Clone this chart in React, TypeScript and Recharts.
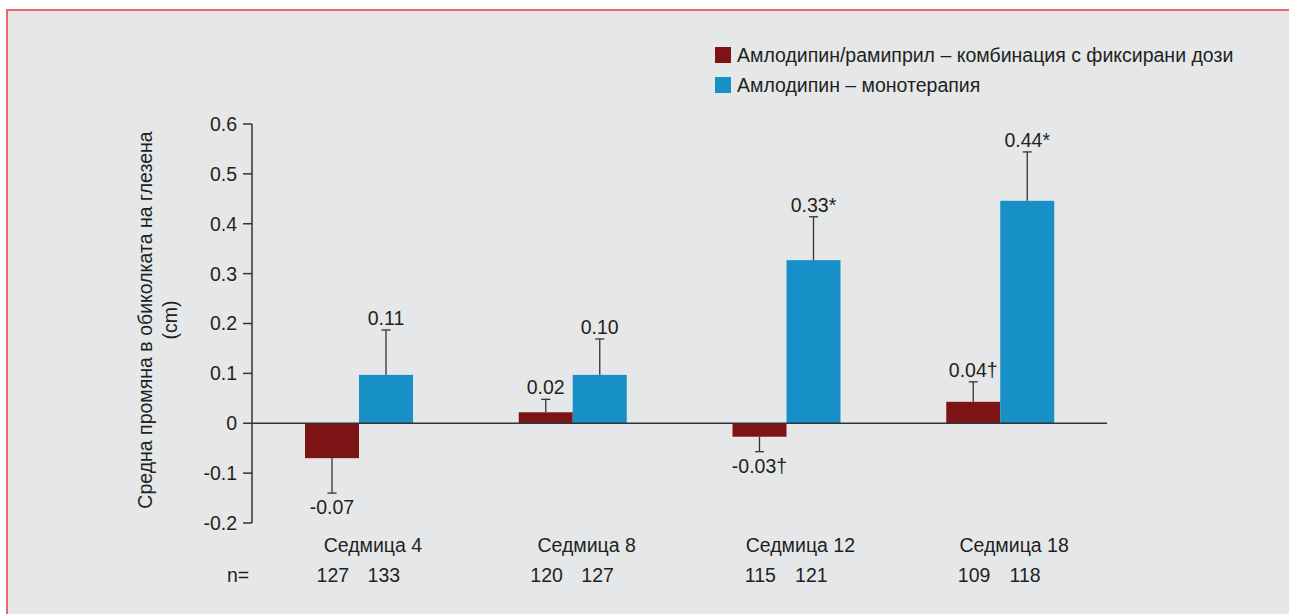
import React from "react";
import { BarChart, Bar, XAxis, YAxis, ReferenceLine } from "recharts";

const categories = ["Седмица 4", "Седмица 8", "Седмица 12", "Седмица 18"];
const comboValues = [-0.07, 0.022, -0.027, 0.043];
const comboErrors = [0.07, 0.026, 0.03, 0.04];
const comboLabels = ["-0.07", "0.02", "-0.03†", "0.04†"];
const monoValues = [0.097, 0.097, 0.327, 0.446];
const monoErrors = [0.09, 0.072, 0.087, 0.098];
const monoLabels = ["0.11", "0.10", "0.33*", "0.44*"];
const nCombo = ["127", "120", "115", "109"];
const nMono = ["133", "127", "121", "118"];
const yTicks = [-0.2, -0.1, 0, 0.1, 0.2, 0.3, 0.4, 0.5, 0.6];

const seriesNames = [
  "Амлодипин/рамиприл – комбинация с фиксирани дози",
  "Амлодипин – монотерапия",
];

const RED = "#7c1416";
const BLUE = "#1690c7";
const TEXT = "#231f20";
const AXIS = "#333333";
const FONT = "'Liberation Sans', Arial, Helvetica, sans-serif";
const FS = 19.5;

const data = categories.map((c, i) => ({
  cat: c,
  combo: comboValues[i],
  comboErr: comboErrors[i],
  comboLabel: comboLabels[i],
  mono: monoValues[i],
  monoErr: monoErrors[i],
  monoLabel: monoLabels[i],
}));

const makeShape = (key: string, errKey: string, labelKey: string, fill: string) => (props: any) => {
  const { x, y, width, height, payload } = props;
  const top = Math.min(y, y + height);
  const bot = Math.max(y, y + height);
  const h = bot - top;
  const val = payload[key];
  const err = payload[errKey];
  const label = payload[labelKey];
  const pos = val >= 0;
  const end = pos ? top : bot;
  const scale = h / Math.abs(val);
  const wEnd = end + (pos ? -1 : 1) * err * scale;
  const cx = x + width / 2;
  return (
    <g>
      <rect x={x} y={top} width={width} height={h} fill={fill} />
      <line x1={cx} x2={cx} y1={end} y2={wEnd} stroke={AXIS} strokeWidth={1.3} />
      <line x1={cx - 4.5} x2={cx + 4.5} y1={wEnd} y2={wEnd} stroke={AXIS} strokeWidth={1.3} />
      <text
        x={cx}
        y={pos ? wEnd - 5 : wEnd + 21}
        textAnchor="middle"
        fontSize={FS}
        fill={TEXT}
        fontFamily={FONT}
      >
        {label}
      </text>
    </g>
  );
};

const CatTick = (props: any) => {
  const { x, payload, index } = props;
  const i = payload && payload.index !== undefined ? payload.index : index;
  return (
    <g fontFamily={FONT} fontSize={FS} fill={TEXT}>
      <text x={x + 14} y={552} textAnchor="middle" fill={TEXT}>
        {payload.value}
      </text>
      <text x={x - 26} y={582} textAnchor="middle" fill={TEXT}>
        {nCombo[i]}
      </text>
      <text x={x + 25} y={582} textAnchor="middle" fill={TEXT}>
        {nMono[i]}
      </text>
      {i === 0 && (
        <text x={238} y={582} textAnchor="middle" fill={TEXT}>
          n=
        </text>
      )}
    </g>
  );
};

export default function App() {
  return (
    <div style={{ position: "absolute", left: 0, top: 0, width: 1289, height: 614, background: "#ffffff", overflow: "hidden", fontFamily: FONT }}>
      <div
        style={{
          position: "absolute",
          left: 6,
          top: 9,
          width: 1300,
          height: 620,
          background: "#e6e7e9",
          borderLeft: "2px solid #f4636a",
          borderTop: "2px solid #f4636a",
        }}
      />
      <div style={{ position: "absolute", left: 0, top: 0 }}>
        <BarChart
          width={1289}
          height={614}
          data={data}
          margin={{ top: 124, right: 182, bottom: 31, left: 192 }}
          barGap={0}
          barSize={54}
        >
          <XAxis
            dataKey="cat"
            axisLine={false}
            tickLine={false}
            tickSize={0}
            height={60}
            interval={0}
            tick={<CatTick />}
          />
          <YAxis
            domain={[-0.2, 0.6]}
            ticks={yTicks}
            width={60}
            interval={0}
            tickSize={9}
            tickMargin={6}
            axisLine={{ stroke: AXIS, strokeWidth: 1.5 }}
            tickLine={{ stroke: AXIS, strokeWidth: 1.5 }}
            tick={{ fill: TEXT, fontSize: FS, fontFamily: FONT }}
            tickFormatter={(v: number) => (v === 0 ? "0" : v.toFixed(1))}
          />
          <Bar dataKey="combo" fill={RED} isAnimationActive={false} shape={makeShape("combo", "comboErr", "comboLabel", RED)} />
          <Bar dataKey="mono" fill={BLUE} isAnimationActive={false} shape={makeShape("mono", "monoErr", "monoLabel", BLUE)} />
          <ReferenceLine y={0} stroke={AXIS} strokeWidth={1.5} />
        </BarChart>
      </div>
      <svg style={{ position: "absolute", left: 0, top: 0 }} width={200} height={614}>
        <text transform="translate(152,320) rotate(-90)" textAnchor="middle" fontSize={FS} fill={TEXT} fontFamily={FONT}>
          Средна промяна в обиколката на глезена
        </text>
        <text transform="translate(177,320) rotate(-90)" textAnchor="middle" fontSize={FS} fill={TEXT} fontFamily={FONT}>
          (cm)
        </text>
      </svg>
      <div style={{ position: "absolute", left: 715, top: 40, fontSize: FS, color: TEXT, fontFamily: FONT }}>
        {seriesNames.map((n, i) => (
          <div key={n} style={{ display: "flex", alignItems: "center", height: 30 }}>
            <span style={{ display: "inline-block", width: 16, height: 16, background: i === 0 ? RED : BLUE, marginRight: 6 }} />
            <span>{n}</span>
          </div>
        ))}
      </div>
    </div>
  );
}
